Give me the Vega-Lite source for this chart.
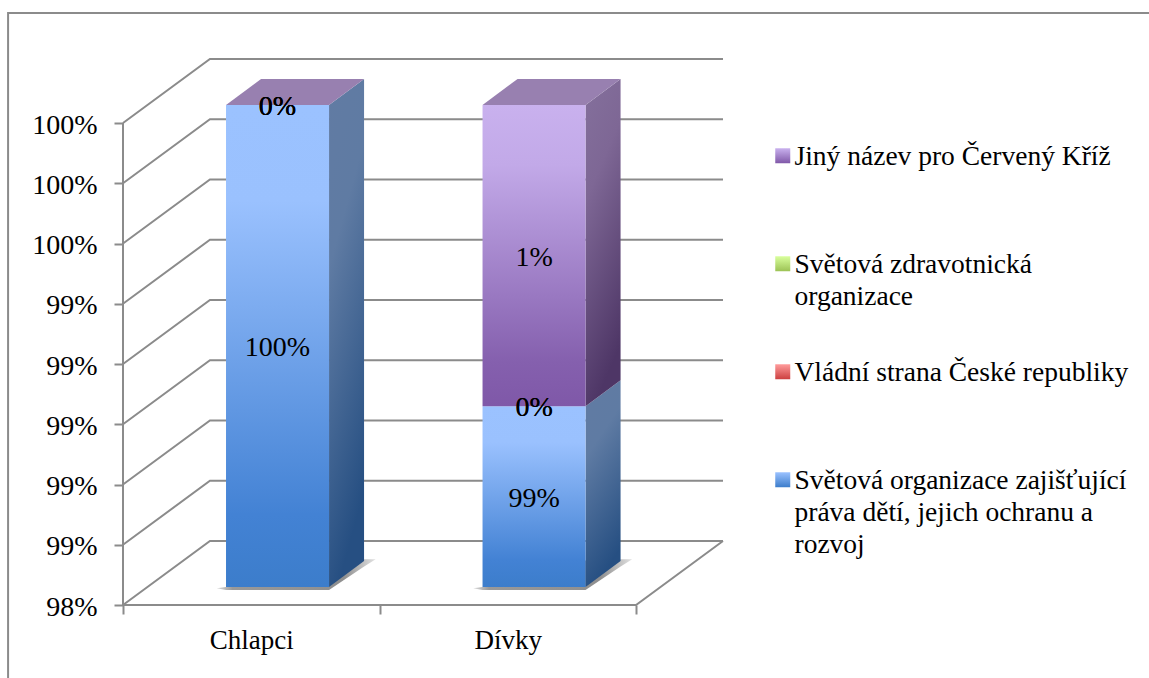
{
  "$schema": "https://vega.github.io/schema/vega-lite/v6.json",
  "width": 600,
  "height": 548,
  "autosize": {"type": "none"},
  "padding": {"left": 123, "top": 57, "right": 426, "bottom": 73},
  "background": "white",
  "view": {"stroke": null},
  "config": {"font": "Liberation Serif"},
  "datasets": {
    "answers": [
      {"kategorie": "Chlapci", "idx": 0, "poradi": 1, "odpoved": "Světová organizace zajišťující práva dětí, jejich ochranu a rozvoj", "value": 100},
      {"kategorie": "Chlapci", "idx": 0, "poradi": 2, "odpoved": "Vládní strana České republiky", "value": 0},
      {"kategorie": "Chlapci", "idx": 0, "poradi": 3, "odpoved": "Světová zdravotnická organizace", "value": 0},
      {"kategorie": "Chlapci", "idx": 0, "poradi": 4, "odpoved": "Jiný název pro Červený Kříž", "value": 0},
      {"kategorie": "Dívky", "idx": 1, "poradi": 1, "odpoved": "Světová organizace zajišťující práva dětí, jejich ochranu a rozvoj", "value": 98.75},
      {"kategorie": "Dívky", "idx": 1, "poradi": 2, "odpoved": "Vládní strana České republiky", "value": 0},
      {"kategorie": "Dívky", "idx": 1, "poradi": 3, "odpoved": "Světová zdravotnická organizace", "value": 0},
      {"kategorie": "Dívky", "idx": 1, "poradi": 4, "odpoved": "Jiný název pro Červený Kříž", "value": 1.25}
    ],
    "ticks": [{"tick": 98}, {"tick": 98.25}, {"tick": 98.5}, {"tick": 98.75}, {"tick": 99}, {"tick": 99.25}, {"tick": 99.5}, {"tick": 99.75}, {"tick": 100}],
    "frame": [{"px": -0.448, "py": 97.69}, {"px": -0.448, "py": 100.456}, {"px": 4.0, "py": 100.456}],
    "floor": [{"px": 0, "py": 98}, {"px": 2, "py": 98}, {"px": 2.339, "py": 98.2656}]
  },
  "encoding": {
    "x": {
      "field": "px", "type": "quantitative",
      "scale": {"domain": [0, 2.339], "nice": false, "zero": false},
      "axis": {
        "title": null, "grid": false, "domain": false,
        "values": [0, 0.5, 1, 1.5, 2],
        "labelExpr": "datum.value==0.5 ? 'Chlapci' : datum.value==1.5 ? 'Dívky' : ''",
        "tickOpacity": {"condition": {"test": "datum.value==0.5 || datum.value==1.5", "value": 0}, "value": 1},
        "tickColor": "#8b8b8b", "tickSize": 9, "tickWidth": 2,
        "labelFontSize": 27, "labelColor": "#000", "labelPadding": 13, "labelFont": "Liberation Serif", "labelOverlap": false
      }
    },
    "y": {
      "field": "py", "type": "quantitative",
      "scale": {"domain": [98, 100.2739], "nice": false, "zero": false},
      "axis": {
        "title": null, "grid": false, "domain": false,
        "values": [98, 98.25, 98.5, 98.75, 99, 99.25, 99.5, 99.75, 100],
        "labelExpr": "datum.value<98.1 ? '98%' : datum.value<99.4 ? '99%' : '100%'",
        "tickColor": "#8b8b8b", "tickSize": 9, "tickWidth": 2,
        "labelFontSize": 28, "labelColor": "#000", "labelPadding": 17, "labelOffset": 2, "labelFont": "Liberation Serif", "labelOverlap": false
      }
    }
  },
  "layer": [
    {
      "data": {"name": "frame"},
      "mark": {"type": "line", "color": "#8b8b8b", "strokeWidth": 2, "clip": false},
      "encoding": {"order": {"field": "px"}}
    },
    {
      "data": {"name": "ticks"},
      "transform": [
        {"calculate": "[0,0.339,2.339]", "as": "px"},
        {"calculate": "[datum.tick,datum.tick+0.2656,datum.tick+0.2656]", "as": "py"},
        {"flatten": ["px", "py"]}
      ],
      "mark": {"type": "line", "color": "#8b8b8b", "strokeWidth": 2},
      "encoding": {"detail": {"field": "tick"}}
    },
    {
      "data": {"name": "floor"},
      "mark": {"type": "line", "color": "#8b8b8b", "strokeWidth": 2}
    },
    {
      "data": {"values": [{"px": 0, "py": 98, "py2": 100}]},
      "mark": {"type": "rule", "color": "#8b8b8b", "strokeWidth": 2},
      "encoding": {"y2": {"field": "py2"}}
    },
    {
      "data": {"name": "answers"},
      "transform": [
        {"filter": "datum.poradi==1"},
        {"calculate": "[datum.idx+0.365,datum.idx+0.4016,datum.idx+0.8032,datum.idx+0.94,datum.idx+0.985]", "as": "px"},
        {"calculate": "[98.07,98.075,98.185,98.19,98.19]", "as": "py"},
        {"calculate": "[98.07,98.0622,98.0622,98.16,98.19]", "as": "py2"},
        {"flatten": ["px", "py", "py2"]}
      ],
      "mark": {"type": "area", "fill": {"gradient": "linear", "x1": 0, "y1": 0, "x2": 1, "y2": 0, "stops": [{"offset": 0, "color": "#dddddd"}, {"offset": 0.1, "color": "#999999"}, {"offset": 0.8, "color": "#8f8f8f"}, {"offset": 1, "color": "#e2e2e2"}]}},
      "encoding": {"y2": {"field": "py2"}, "detail": {"field": "kategorie"}}
    },
    {
      "data": {"name": "answers"},
      "transform": [
        {"stack": "value", "groupby": ["kategorie"], "sort": [{"field": "poradi"}], "as": ["v0", "v1"]},
        {"filter": "datum.poradi==1"},
        {"calculate": "max(datum.v0,98)+0.0747", "as": "low"},
        {"calculate": "datum.v1+0.0747", "as": "high"},
        {"calculate": "[datum.idx+0.8032,datum.idx+0.9397]", "as": "px"},
        {"calculate": "[datum.low,datum.low+0.1079]", "as": "py"},
        {"calculate": "[datum.high,datum.high+0.1079]", "as": "py2"},
        {"flatten": ["px", "py", "py2"]}
      ],
      "mark": {"type": "area", "fill": {"gradient": "linear", "x1": 0, "y1": 0, "x2": 0.25, "y2": 1, "stops": [{"offset": 0, "color": "#617ba3"}, {"offset": 0.35, "color": "#5f7ba3"}, {"offset": 1, "color": "#264f82"}]}},
      "encoding": {"y2": {"field": "py2"}, "detail": {"field": "kategorie"}}
    },
    {
      "data": {"name": "answers"},
      "transform": [
        {"stack": "value", "groupby": ["kategorie"], "sort": [{"field": "poradi"}], "as": ["v0", "v1"]},
        {"filter": "datum.poradi==4 && datum.value>0"},
        {"calculate": "datum.v0+0.0747", "as": "low"},
        {"calculate": "datum.v1+0.0747", "as": "high"},
        {"calculate": "[datum.idx+0.8032,datum.idx+0.9397]", "as": "px"},
        {"calculate": "[datum.low,datum.low+0.1079]", "as": "py"},
        {"calculate": "[datum.high,datum.high+0.1079]", "as": "py2"},
        {"flatten": ["px", "py", "py2"]}
      ],
      "mark": {"type": "area", "fill": {"gradient": "linear", "x1": 0, "y1": 0, "x2": 0.25, "y2": 1, "stops": [{"offset": 0, "color": "#84709c"}, {"offset": 0.35, "color": "#7e6795"}, {"offset": 1, "color": "#4e3666"}]}},
      "encoding": {"y2": {"field": "py2"}, "detail": {"field": "kategorie"}}
    },
    {
      "data": {"name": "answers"},
      "transform": [
        {"filter": "datum.poradi==4"},
        {"calculate": "[datum.idx+0.4016,datum.idx+0.5381,datum.idx+0.8032,datum.idx+0.9397]", "as": "px"},
        {"calculate": "[100.0747,100.1826,100.1826,100.1826]", "as": "py"},
        {"calculate": "[100.0747,100.0747,100.0747,100.1826]", "as": "py2"},
        {"flatten": ["px", "py", "py2"]}
      ],
      "mark": {"type": "area", "color": "#9880b0"},
      "encoding": {"y2": {"field": "py2"}, "detail": {"field": "kategorie"}}
    },
    {
      "data": {"name": "answers"},
      "transform": [
        {"stack": "value", "groupby": ["kategorie"], "sort": [{"field": "poradi"}], "as": ["v0", "v1"]},
        {"filter": "datum.poradi==1"},
        {"calculate": "max(datum.v0,98)+0.0747", "as": "py"},
        {"calculate": "datum.v1+0.0747", "as": "py2"},
        {"calculate": "datum.idx+0.4016", "as": "px"},
        {"calculate": "datum.idx+0.8032", "as": "px2"}
      ],
      "mark": {"type": "rect", "fill": {"gradient": "linear", "x1": 0, "y1": 0, "x2": 0, "y2": 1, "stops": [{"offset": 0, "color": "#9bc2ff"}, {"offset": 0.2, "color": "#9ac1fe"}, {"offset": 0.85, "color": "#4382d4"}, {"offset": 1, "color": "#3c7dcb"}]}},
      "encoding": {"x2": {"field": "px2"}, "y2": {"field": "py2"}}
    },
    {
      "data": {"name": "answers"},
      "transform": [
        {"stack": "value", "groupby": ["kategorie"], "sort": [{"field": "poradi"}], "as": ["v0", "v1"]},
        {"filter": "datum.poradi==4 && datum.value>0"},
        {"calculate": "datum.v0+0.0747", "as": "py"},
        {"calculate": "datum.v1+0.0747", "as": "py2"},
        {"calculate": "datum.idx+0.4016", "as": "px"},
        {"calculate": "datum.idx+0.8032", "as": "px2"}
      ],
      "mark": {"type": "rect", "fill": {"gradient": "linear", "x1": 0, "y1": 0, "x2": 0, "y2": 1, "stops": [{"offset": 0, "color": "#c9b1ee"}, {"offset": 0.2, "color": "#c2a9e8"}, {"offset": 0.85, "color": "#8560ae"}, {"offset": 1, "color": "#7f58a8"}]}},
      "encoding": {"x2": {"field": "px2"}, "y2": {"field": "py2"}}
    },
    {
      "data": {"name": "answers"},
      "transform": [
        {"stack": "value", "groupby": ["kategorie"], "sort": [{"field": "poradi"}], "as": ["v0", "v1"]},
        {"calculate": "(max(datum.v0,98)+datum.v1)/2+0.0747", "as": "py"},
        {"calculate": "datum.idx+0.6024", "as": "px"},
        {"calculate": "round(datum.value)+'%'", "as": "popisek"}
      ],
      "mark": {"type": "text", "font": "Liberation Serif", "fontSize": 28, "color": "#000", "baseline": "middle", "dy": 2},
      "encoding": {"text": {"field": "popisek"}}
    },
    {
      "data": {"name": "answers"},
      "mark": {"type": "point", "filled": true, "opacity": 0, "size": 1},
      "encoding": {
        "x": {"field": "idx", "type": "quantitative"},
        "y": {"datum": 99},
        "shape": {
          "field": "odpoved", "type": "nominal",
          "scale": {
            "domain": ["Jiný název pro Červený Kříž", "Světová zdravotnická organizace", "Vládní strana České republiky", "Světová organizace zajišťující práva dětí, jejich ochranu a rozvoj"],
            "range": ["square", "square", "square", "square"]
          },
          "legend": {
            "title": null, "orient": "none", "legendX": 646, "legendY": 85,
            "symbolSize": 225, "symbolOpacity": 1, "symbolStrokeWidth": 0,
            "labelFont": "Liberation Serif", "labelFontSize": 27.5, "labelColor": "#000", "labelLimit": 0, "labelOffset": -2,
            "labelBaseline": "top", "rowPadding": 15,
            "labelExpr": "substring(datum.label,0,3)=='Jin' ? ['Jiný název pro Červený Kříž','',''] : substring(datum.label,0,11)=='Světová zdr' ? ['Světová zdravotnická','organizace',''] : substring(datum.label,0,3)=='Vlá' ? ['Vládní strana České republiky','',''] : ['Světová organizace zajišťující','práva dětí, jejich ochranu a','rozvoj']",
            "encoding": {
              "labels": {"lineHeight": {"value": 32}, "dy": {"value": -13}},
              "symbols": {"opacity": {"value": 1}, "fill": {
                "condition": [
                  {"test": "substring(datum.value,0,3)=='Jin'", "value": {"gradient": "linear", "x1": 0, "y1": 0, "x2": 0, "y2": 1, "stops": [{"offset": 0, "color": "#c9b1ee"}, {"offset": 1, "color": "#8058a8"}]}},
                  {"test": "substring(datum.value,0,11)=='Světová zdr'", "value": {"gradient": "linear", "x1": 0, "y1": 0, "x2": 0, "y2": 1, "stops": [{"offset": 0, "color": "#d9ff9d"}, {"offset": 1, "color": "#9cc255"}]}},
                  {"test": "substring(datum.value,0,3)=='Vlá'", "value": {"gradient": "linear", "x1": 0, "y1": 0, "x2": 0, "y2": 1, "stops": [{"offset": 0, "color": "#ff9c9c"}, {"offset": 1, "color": "#cc4040"}]}}
                ],
                "value": {"gradient": "linear", "x1": 0, "y1": 0, "x2": 0, "y2": 1, "stops": [{"offset": 0, "color": "#9bc2ff"}, {"offset": 1, "color": "#3c7dcb"}]}
              }}
            }
          }
        }
      }
    }
  ]
}
